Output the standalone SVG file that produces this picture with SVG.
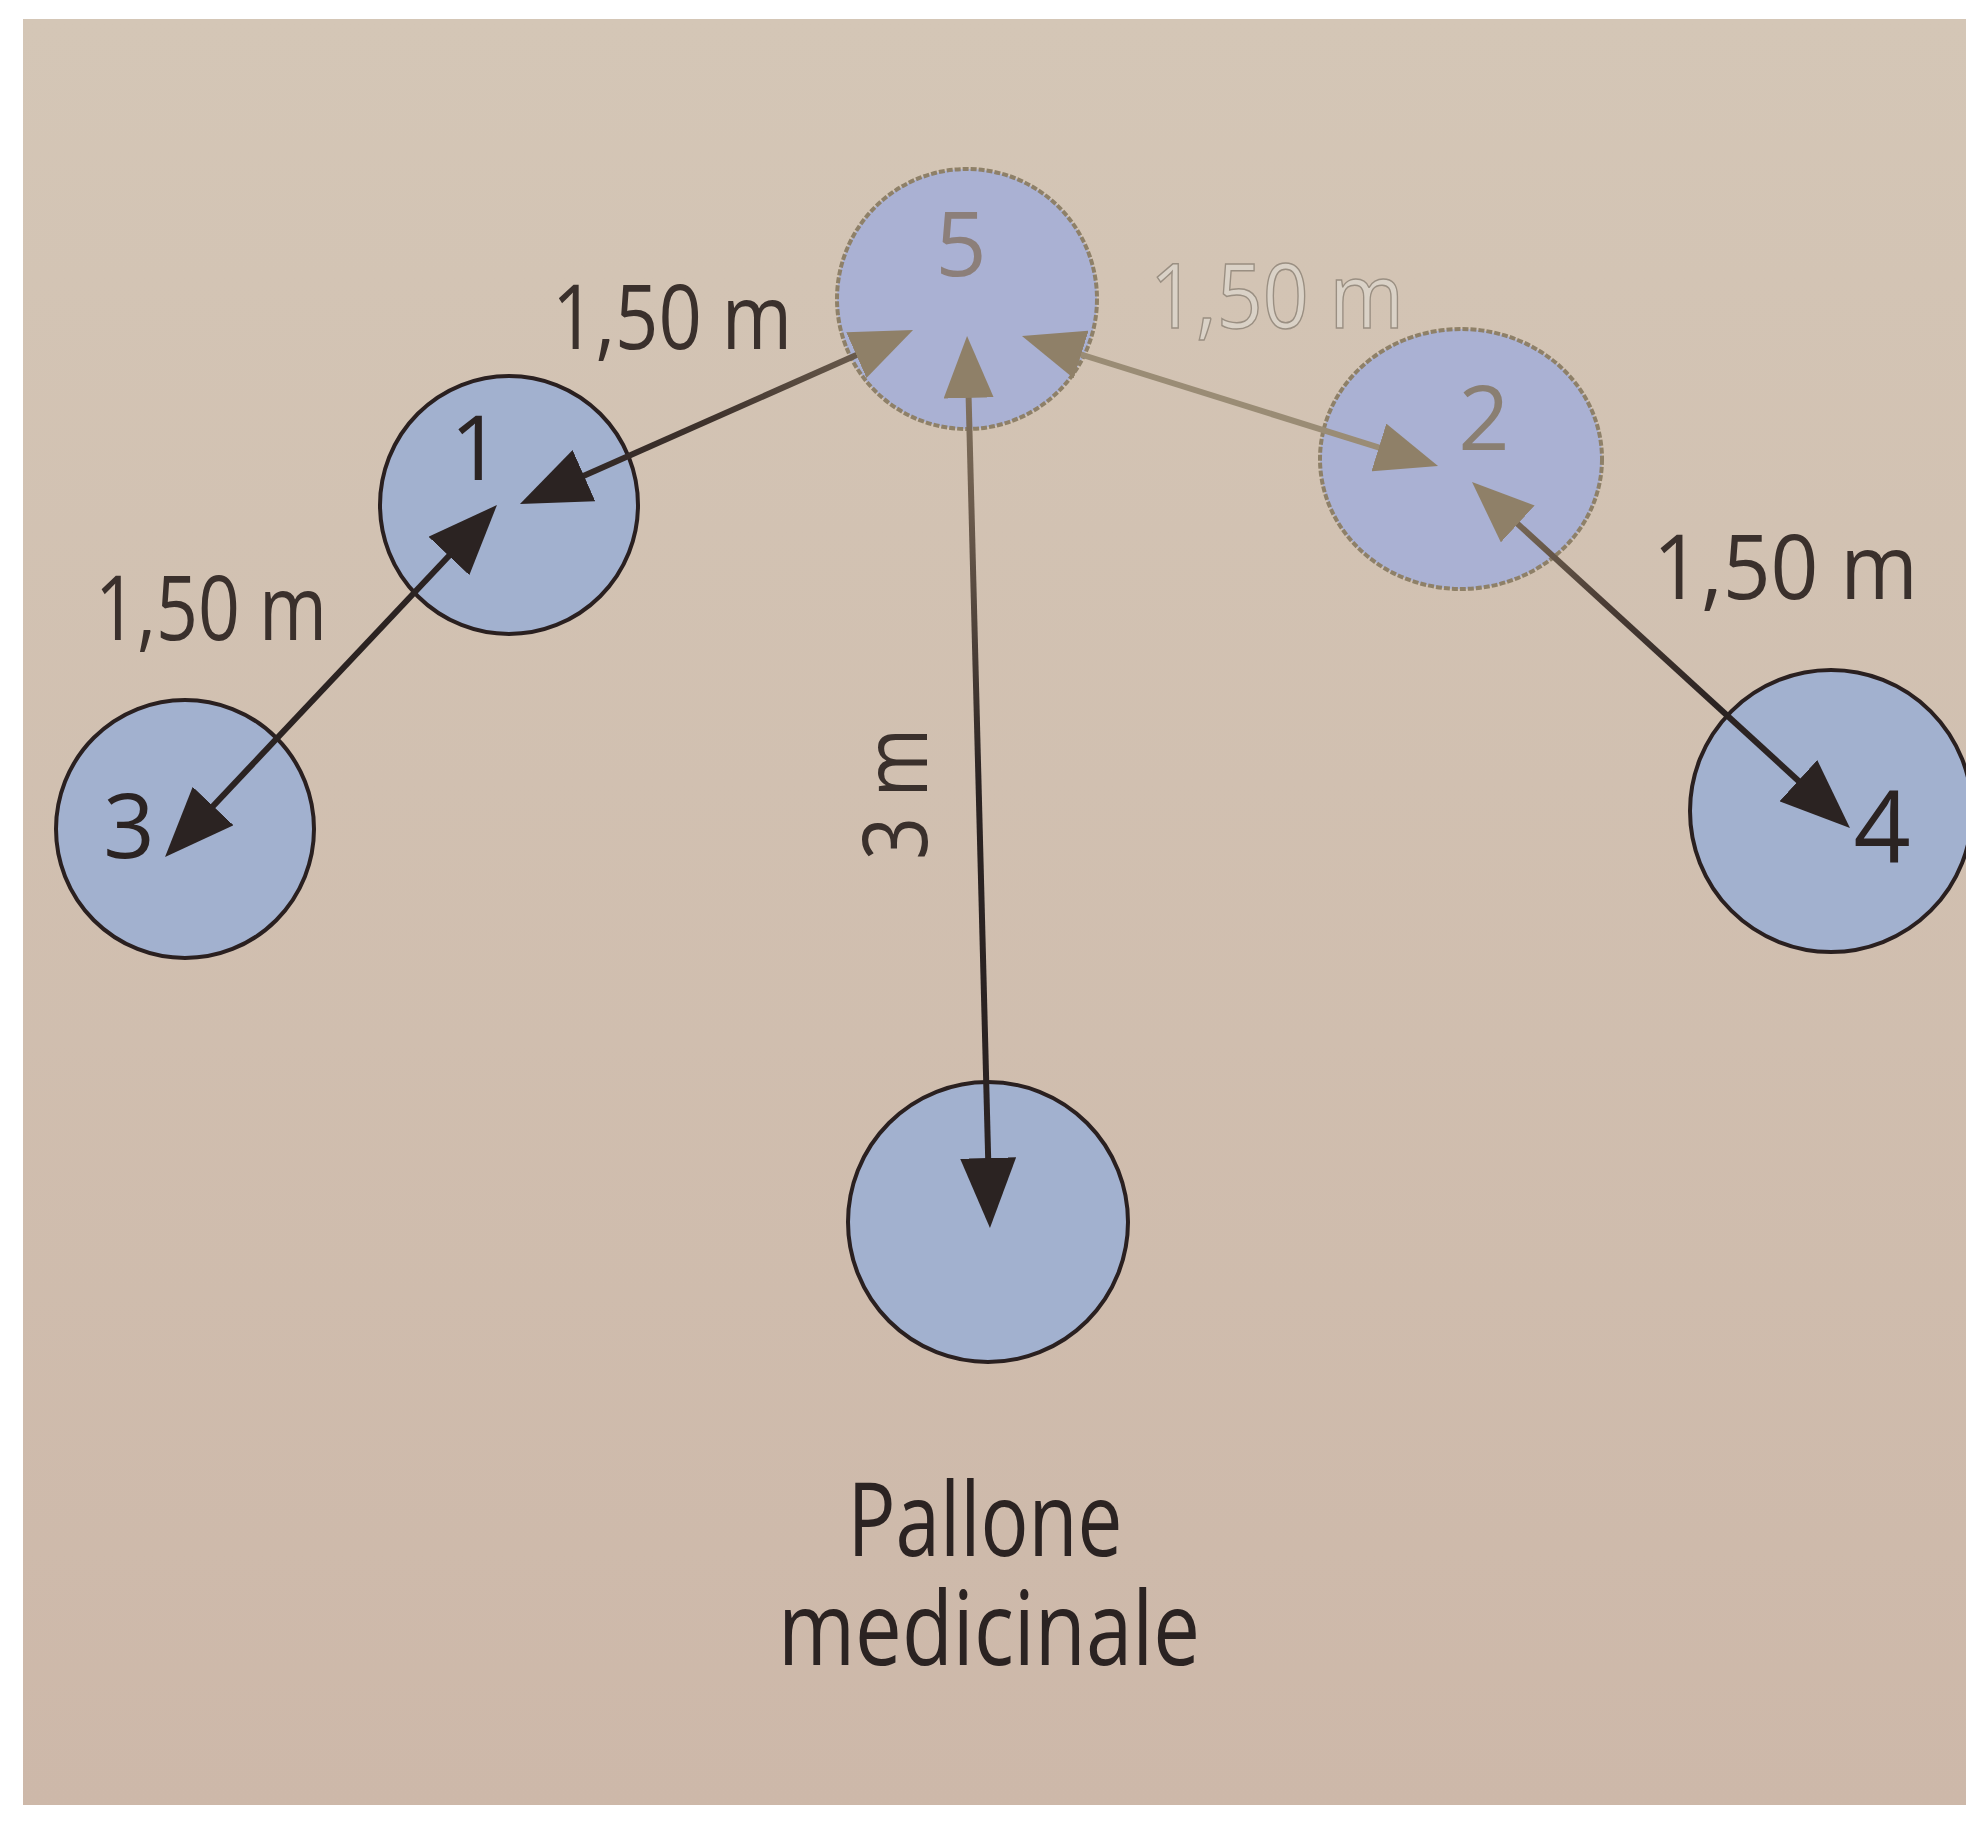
<svg xmlns="http://www.w3.org/2000/svg" width="1966" height="1838" viewBox="0 0 1966 1838">
  <defs>
    <style>
      .t { font-family: "Open Sans", "Noto Sans", "DejaVu Sans", sans-serif; }
      .dark { fill: #2b2322; }
      .lbl { fill: #3a302c; font-size: 90px; }
      .num { font-size: 90px; text-anchor: middle; }
      .nb { fill: #a2b1cf; stroke: #2a2020; stroke-width: 4; }
      .ng { fill: #aab1d3; stroke: #8e8068; stroke-width: 4; stroke-dasharray: 6 2; }
      .ln { fill: none; stroke-width: 6; }
    </style>
    <linearGradient id="bg" x1="0" y1="0" x2="0" y2="1">
      <stop offset="0" stop-color="#d4c6b6"/>
      <stop offset="1" stop-color="#cdb8a9"/>
    </linearGradient>
    <linearGradient id="g51" gradientUnits="userSpaceOnUse" x1="913" y1="330" x2="520" y2="504">
      <stop offset="0" stop-color="#7a6a58"/>
      <stop offset="0.5" stop-color="#3f332d"/>
      <stop offset="1" stop-color="#2b2322"/>
    </linearGradient>
    <linearGradient id="g24" gradientUnits="userSpaceOnUse" x1="1472" y1="482" x2="1850" y2="828">
      <stop offset="0" stop-color="#8d7d66"/>
      <stop offset="0.35" stop-color="#4a3c34"/>
      <stop offset="0.65" stop-color="#2b2322"/>
    </linearGradient>
    <linearGradient id="g5b" gradientUnits="userSpaceOnUse" x1="967" y1="336" x2="990" y2="1228">
      <stop offset="0" stop-color="#8d7d66"/>
      <stop offset="0.2" stop-color="#6a5a4c"/>
      <stop offset="0.5" stop-color="#2b2322"/>
    </linearGradient>
    <marker id="ahDark" viewBox="0 -28 70 56" refX="60" refY="0" markerWidth="70" markerHeight="56" markerUnits="userSpaceOnUse" orient="auto-start-reverse">
      <path d="M0,-28 L70,0 L0,28 z" fill="#2b2322"/>
    </marker>
    <marker id="ahGold" viewBox="0 -25 62 50" refX="52" refY="0" markerWidth="62" markerHeight="50" markerUnits="userSpaceOnUse" orient="auto-start-reverse">
      <path d="M0,-25 L62,0 L0,25 z" fill="#8f8068"/>
    </marker>
  </defs>

  <!-- photo border and paper -->
  <rect x="0" y="0" width="1966" height="1838" fill="#ffffff"/>
  <rect x="23" y="19" width="1943" height="1786" fill="url(#bg)"/>

  <!-- nodes -->
  <g id="node-5">
    <circle class="ng" cx="967" cy="299" r="130"/>
    <text class="t num" x="961" y="276" fill="#8c7f7a">5</text>
  </g>
  <g id="node-1">
    <circle class="nb" cx="509" cy="505" r="129"/>
    <text class="t num dark" x="476" y="480">1</text>
  </g>
  <g id="node-2">
    <ellipse class="ng" cx="1461" cy="459" rx="141" ry="130"/>
    <text class="t num" x="1484" y="450" fill="#8a7f72">2</text>
  </g>
  <g id="node-3">
    <circle class="nb" cx="185" cy="829" r="129"/>
    <text class="t num dark" x="129" y="858">3</text>
  </g>
  <g id="node-4">
    <circle class="nb" cx="1831" cy="811" r="141"/>
    <text class="t num dark" x="1882" y="863" style="font-size:100px">4</text>
  </g>
  <g id="node-pallone">
    <circle class="nb" cx="988" cy="1222" r="140"/>
    <text class="t dark" x="985" y="1556" text-anchor="middle" font-size="102" textLength="275" lengthAdjust="spacingAndGlyphs">Pallone</text>
    <text class="t dark" x="989" y="1665" text-anchor="middle" font-size="102" textLength="422" lengthAdjust="spacingAndGlyphs">medicinale</text>
  </g>

  <!-- connectors -->
  <g id="connectors">
    <line class="ln" x1="903.9" y1="334.0" x2="529.1" y2="500.0" stroke="url(#g51)" marker-start="url(#ahGold)" marker-end="url(#ahDark)"/>
    <line class="ln" x1="490.1" y1="512.3" x2="171.9" y2="849.7" stroke="#2b2322" marker-start="url(#ahDark)" marker-end="url(#ahDark)"/>
    <line class="ln" x1="1031.5" y1="339.0" x2="1428.5" y2="463.0" stroke="#9a8c75" stroke-width="5" marker-start="url(#ahGold)" marker-end="url(#ahGold)"/>
    <line class="ln" x1="1479.4" y1="488.8" x2="1842.6" y2="821.2" stroke="url(#g24)" marker-start="url(#ahGold)" marker-end="url(#ahDark)"/>
    <line class="ln" x1="967.3" y1="346.0" x2="989.7" y2="1218.0" stroke="url(#g5b)" marker-start="url(#ahGold)" marker-end="url(#ahDark)"/>
  </g>

  <!-- distance labels -->
  <g id="labels">
    <text class="t lbl" x="552" y="349" textLength="240" lengthAdjust="spacingAndGlyphs">1,50 m</text>
    <text class="t lbl" x="1150" y="328" textLength="254" lengthAdjust="spacingAndGlyphs" style="fill:#dad2c7;stroke:#9a8f82;stroke-width:1.5">1,50 m</text>
    <text class="t lbl" x="95" y="640" textLength="232" lengthAdjust="spacingAndGlyphs">1,50 m</text>
    <text class="t lbl" x="1653" y="599" textLength="265" lengthAdjust="spacingAndGlyphs">1,50 m</text>
    <text class="t lbl" transform="translate(927 860) rotate(-90)" x="0" y="0" textLength="132" lengthAdjust="spacingAndGlyphs">3 m</text>
  </g>
</svg>
